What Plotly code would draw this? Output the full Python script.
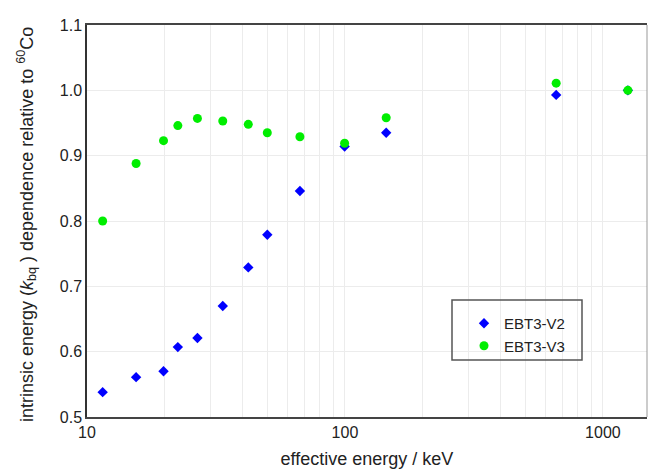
import plotly.graph_objects as go

energy = [11.5, 15.5, 19.8, 22.5, 26.8, 33.6, 42.2, 50.0, 66.9, 99.7, 144.5, 659, 1250]
ebt3_v2 = [0.538, 0.561, 0.570, 0.607, 0.621, 0.670, 0.729, 0.779, 0.846, 0.914, 0.935, 0.993, 1.000]
ebt3_v3 = [0.800, 0.888, 0.923, 0.946, 0.957, 0.953, 0.948, 0.935, 0.929, 0.919, 0.958, 1.011, 1.000]

x_gridvals = [10, 20, 30, 40, 50, 60, 70, 80, 90,
              100, 200, 300, 400, 500, 600, 700, 800, 900, 1000]
x_ticktext = [str(v) if v in (10, 100, 1000) else "" for v in x_gridvals]
y_ticks = [0.5, 0.6, 0.7, 0.8, 0.9, 1.0, 1.1]
y_ticktext = ["0.5", "0.6", "0.7", "0.8", "0.9", "1.0", "1.1"]

FONT = "Liberation Sans, Arial, sans-serif"
W, H = 651, 471
L, T, R, B = 87, 25, 4, 54
pw, ph = W - L - R, H - T - B

fig = go.Figure()
fig.add_trace(go.Scatter(x=energy, y=ebt3_v2, mode="markers", name="EBT3-V2",
                         marker=dict(symbol="diamond", size=8, color="#0000ff")))
fig.add_trace(go.Scatter(x=energy, y=ebt3_v3, mode="markers", name="EBT3-V3",
                         marker=dict(symbol="circle", size=9, color="#00ee00")))

def px2paper_x(px):
    return (px - L) / pw

def px2paper_y(py):
    return (H - B - py) / ph

fig.update_layout(
    width=W, height=H,
    margin=dict(l=L, r=R, t=T, b=B),
    paper_bgcolor="white", plot_bgcolor="white",
    font=dict(family=FONT, size=16, color="#222"),
    showlegend=True,
    legend=dict(x=px2paper_x(464), y=px2paper_y(307), xanchor="left", yanchor="top",
                bgcolor="rgba(0,0,0,0)", borderwidth=0,
                font=dict(size=15, color="#222"), itemsizing="trace"),
    xaxis=dict(type="log", range=[1, 3.171],
               tickvals=x_gridvals, ticktext=x_ticktext,
               showgrid=True, gridcolor="#ececec", gridwidth=1,
               showline=True, linecolor="#444", linewidth=1.5, mirror=True,
               ticks="", zeroline=False, tickfont=dict(size=16),
               title=dict(text="effective energy / keV", font=dict(size=18), standoff=12)),
    yaxis=dict(range=[0.5, 1.1], tickvals=y_ticks, ticktext=y_ticktext,
               showgrid=True, gridcolor="#ececec", gridwidth=1,
               showline=True, linecolor="#333", linewidth=1.5, mirror=False,
               ticks="", zeroline=False, tickfont=dict(size=16)),
    shapes=[
        dict(type="line", xref="paper", yref="paper", x0=1, x1=1, y0=0, y1=1,
             line=dict(color="#999", width=1)),
        dict(type="rect", xref="paper", yref="paper",
             x0=px2paper_x(452), x1=px2paper_x(582), y0=px2paper_y(360), y1=px2paper_y(300),
             line=dict(color="#555", width=1.5), fillcolor="rgba(0,0,0,0)"),
    ],
    annotations=[
        dict(text="intrinsic energy (<i>k</i><sub>bq</sub> ) dependence relative to <sup>60</sup>Co",
             xref="paper", yref="paper", x=0, y=0.5, xanchor="center", yanchor="middle",
             xshift=-(L - 26), yshift=-4, textangle=-90, showarrow=False,
             font=dict(size=18, color="#222")),
    ],
)

fig.write_html("out.html")
